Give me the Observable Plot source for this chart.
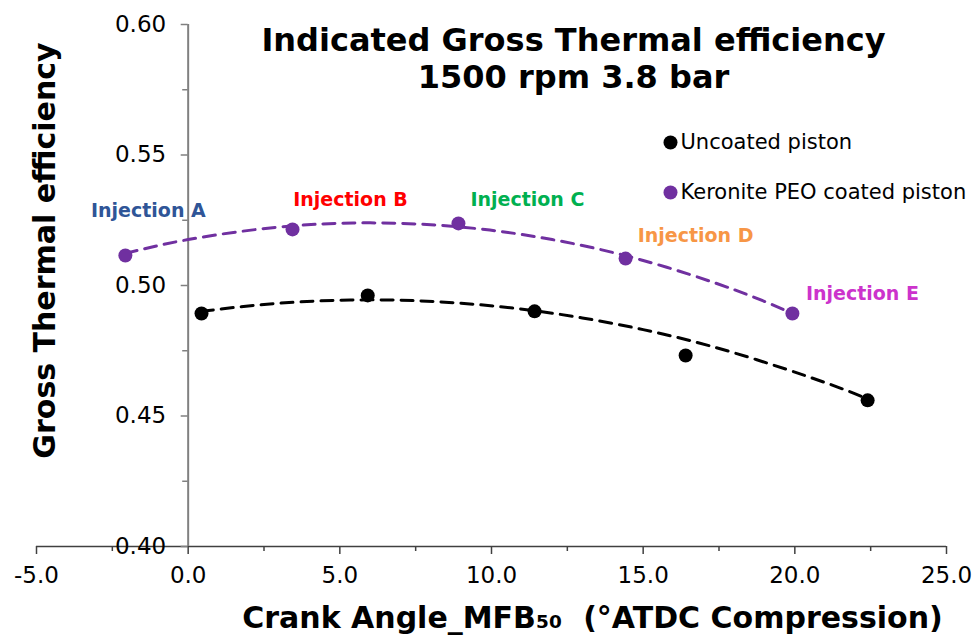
<!DOCTYPE html>
<html>
<head>
<meta charset="utf-8">
<script src="https://cdn.jsdelivr.net/npm/d3@7"></script>
<script src="https://cdn.jsdelivr.net/npm/@observablehq/plot@0.6"></script>
<style>
  html, body { margin: 0; padding: 0; background: #fff; }
  #chart svg { display: block; }
</style>
</head>
<body>
<div id="chart"></div>
<script>
// ---- data ----
const uncoatedX = [0.44, 5.92, 11.42, 16.40, 22.40];
const uncoatedY = [0.4893, 0.4962, 0.4901, 0.4732, 0.4560];
const coatedX = [-2.07, 3.44, 8.91, 14.42, 19.92];
const coatedY = [0.5115, 0.5215, 0.5238, 0.5103, 0.4893];
// dashed polynomial trend lines
const uncoatedTrendX = [0.44, 3, 6, 9, 12, 15, 18, 21, 22.4];
const uncoatedTrendY = [0.4901, 0.4932, 0.4945, 0.4932, 0.4894, 0.4831, 0.4742, 0.4628, 0.4565];
const coatedTrendX = [-2.07, 0, 3, 6, 9, 12, 15, 18, 19.92];
const coatedTrendY = [0.5123, 0.5176, 0.5224, 0.5240, 0.5224, 0.5176, 0.5096, 0.4984, 0.4893];
const injectionLabels = ["Injection A", "Injection B", "Injection C", "Injection D", "Injection E"];
const seriesNames = ["Uncoated piston", "Keronite PEO coated piston"];
const xTicks = [-5, 0, 5, 10, 15, 20, 25];
const xMinorTicks = [-2.5, 2.5, 7.5, 12.5, 17.5, 22.5];
const yTicks = [0.40, 0.45, 0.50, 0.55, 0.60];
const yMinorTicks = [0.425, 0.475, 0.525, 0.575];
const titleLines = ["Indicated Gross Thermal efficiency", "1500 rpm 3.8 bar"];
const yTitle = "Gross Thermal efficiency";
const xTitle = "Crank Angle_MFB\u2085\u2080  (\u00B0ATDC Compression)";

// ---- styles ----
const purple = "#7030A0";
const labelColors = ["#2F5597", "#FF0000", "#00B050", "#F79646", "#CC33CC"];
const labelOffsets = [[23, -45], [58, -29], [69, -23], [70, -23], [70, -20]];
const font = "DejaVu Sans, Verdana, sans-serif";

const uncoated = uncoatedX.map((x, i) => ({x, y: uncoatedY[i]}));
const coated = coatedX.map((x, i) => ({x, y: coatedY[i]}));
const uncoatedTrend = uncoatedTrendX.map((x, i) => ({x, y: uncoatedTrendY[i]}));
const coatedTrend = coatedTrendX.map((x, i) => ({x, y: coatedTrendY[i]}));

const labelMarks = injectionLabels.map((t, i) =>
  Plot.text([coated[i]], {
    x: "x", y: "y", text: () => t,
    dx: labelOffsets[i][0], dy: labelOffsets[i][1],
    fill: labelColors[i], fontSize: 19, fontWeight: "bold", fontFamily: font
  })
);

const chart = Plot.plot({
  width: 975,
  height: 637,
  marginLeft: 36,
  marginRight: 29,
  marginTop: 24,
  marginBottom: 91,
  style: {fontFamily: font, background: "#fff"},
  x: {domain: [-5, 25], axis: null},
  y: {domain: [0.40, 0.60], axis: null},
  marks: [
    // x axis
    Plot.ruleY([0.40], {stroke: "#404040", strokeWidth: 1.5}),
    Plot.axisX({ticks: xTicks, tickFormat: d => d.toFixed(1), tickSize: 8, tickPadding: 12, label: null,
      fontSize: 23, stroke: "#404040", strokeWidth: 1.5, fill: "#000", fontFamily: font}),
    Plot.axisX({ticks: xMinorTicks, tickFormat: () => "", tickSize: 5, label: null,
      stroke: "#404040", strokeWidth: 1.5}),
    // y axis at x = 0
    Plot.ruleX([0], {y1: 0.40, y2: 0.60, stroke: "#808080", strokeWidth: 2}),
    Plot.ruleY(yTicks, {y: d => d, x1: -0.23, x2: 0, stroke: "#808080", strokeWidth: 1.5}),
    Plot.ruleY(yMinorTicks, {y: d => d, x1: -0.18, x2: 0, stroke: "#808080", strokeWidth: 1.5}),
    Plot.text(yTicks, {x: 0, y: d => d, text: d => d.toFixed(2), textAnchor: "end", dx: -22,
      fontSize: 23, fill: "#000", fontFamily: font}),
    // trend lines
    Plot.line(coatedTrend, {x: "x", y: "y", curve: "natural", stroke: purple, strokeWidth: 3, strokeDasharray: "12,8"}),
    Plot.line(uncoatedTrend, {x: "x", y: "y", curve: "natural", stroke: "#000", strokeWidth: 3, strokeDasharray: "12,8"}),
    // points
    Plot.dot(coated, {x: "x", y: "y", r: 7, fill: purple}),
    Plot.dot(uncoated, {x: "x", y: "y", r: 7, fill: "#000"}),
    ...labelMarks,
    // title
    Plot.text([titleLines[0]], {frameAnchor: "top", dx: 82, dy: 16, lineAnchor: "middle", fontSize: 32, fontWeight: "bold", fill: "#000", fontFamily: font}),
    Plot.text([titleLines[1]], {frameAnchor: "top", dx: 82, dy: 53, lineAnchor: "middle", fontSize: 32, fontWeight: "bold", fill: "#000", fontFamily: font}),
    // axis titles
    Plot.text([yTitle], {frameAnchor: "left", dx: 9, dy: -35, rotate: -90, textAnchor: "middle", lineAnchor: "middle", fontSize: 30, fontWeight: "bold", fill: "#000", fontFamily: font}),
    Plot.text([xTitle], {frameAnchor: "bottom", dx: 101, dy: 72, textAnchor: "middle", lineAnchor: "middle", fontSize: 30, fontWeight: "bold", fill: "#000", fontFamily: font}),
    // legend entries
    Plot.dot([seriesNames[0]], {frameAnchor: "top-left", dx: 634, dy: 118, r: 7, fill: "#000"}),
    Plot.dot([seriesNames[1]], {frameAnchor: "top-left", dx: 634, dy: 168, r: 7, fill: purple}),
    Plot.text([seriesNames[0]], {frameAnchor: "top-left", dx: 644, dy: 118, textAnchor: "start", lineAnchor: "middle", fontSize: 21, fill: "#000", fontFamily: font}),
    Plot.text([seriesNames[1]], {frameAnchor: "top-left", dx: 644, dy: 168, textAnchor: "start", lineAnchor: "middle", fontSize: 21, fill: "#000", fontFamily: font})
  ]
});
document.getElementById("chart").appendChild(chart);
</script>
</body>
</html>
